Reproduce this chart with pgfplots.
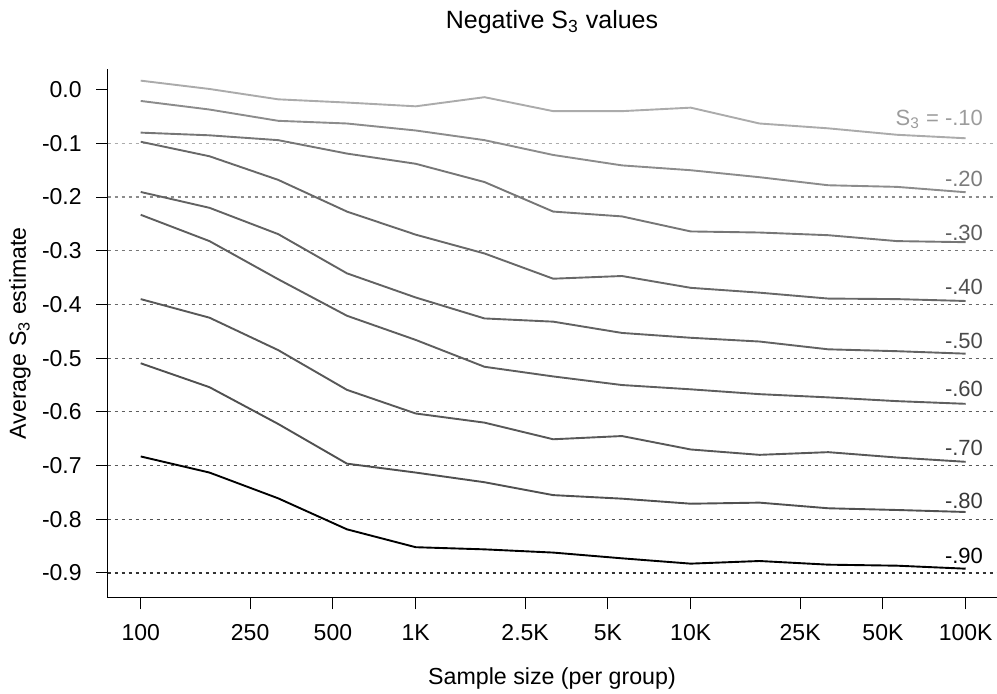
\documentclass[border=0pt]{standalone}
\usepackage{fontspec}
\setmainfont{Liberation Sans}
\usepackage{pgfplots}
\pgfplotsset{compat=1.18}
\usepackage{pgfplotstable}

\definecolor{c1}{HTML}{ABABAB}
\definecolor{c2}{HTML}{8C8C8C}
\definecolor{c3}{HTML}{767676}
\definecolor{c4}{HTML}{686868}
\definecolor{c5}{HTML}{626262}
\definecolor{c6}{HTML}{5E5E5E}
\definecolor{c7}{HTML}{585858}
\definecolor{c8}{HTML}{505050}
\definecolor{c9}{HTML}{000000}
\definecolor{t1}{HTML}{9C9C9C}
\definecolor{t2}{HTML}{7C7C7C}
\definecolor{t3}{HTML}{5E5E5E}
\definecolor{t4}{HTML}{505050}
\definecolor{t5}{HTML}{4A4A4A}
\definecolor{t6}{HTML}{444444}
\definecolor{t7}{HTML}{404040}
\definecolor{t8}{HTML}{383838}

\pgfplotstableread{
n       s1      s2      s3      s4      s5      s6      s7      s8      s9
100     0.0168  -0.021  -0.080  -0.097  -0.1905 -0.233  -0.390  -0.5095 -0.683
177.83  0.0013  -0.037  -0.085  -0.124  -0.220  -0.282  -0.4246 -0.554  -0.713
316.23  -0.018  -0.058  -0.094  -0.168  -0.269  -0.353  -0.485  -0.6225 -0.761
562.34  -0.024  -0.063  -0.119  -0.227  -0.342  -0.421  -0.559  -0.6964 -0.8187
1000    -0.031  -0.076  -0.138  -0.270  -0.387  -0.466  -0.603  -0.713  -0.852
1778.3  -0.014  -0.094  -0.172  -0.305  -0.426  -0.516  -0.620  -0.731  -0.856
3162.3  -0.040  -0.1216 -0.227  -0.352  -0.432  -0.534  -0.651  -0.755  -0.862
5623.4  -0.040  -0.141  -0.236  -0.347  -0.453  -0.550  -0.645  -0.7616 -0.8727
10000   -0.0335 -0.150  -0.264  -0.369  -0.462  -0.558  -0.670  -0.771  -0.8826
17783   -0.063  -0.163  -0.266  -0.378  -0.469  -0.567  -0.680  -0.769  -0.8777
31623   -0.072  -0.178  -0.271  -0.389  -0.4835 -0.573  -0.675  -0.7795 -0.8845
56234   -0.084  -0.181  -0.282  -0.390  -0.487  -0.580  -0.685  -0.7827 -0.8864
100000  -0.0905 -0.191  -0.284  -0.3935 -0.4916 -0.585  -0.693  -0.7864 -0.892
}\datatable

\begin{document}
\begin{tikzpicture}
\begin{axis}[
  name=ax, at={(0,0)}, anchor=south west,
  scale only axis, width=445.5pt, height=264.35pt,
  xmode=log, xmin=75.86, xmax=131826, ymin=-0.946, ymax=0.0385,
  axis x line*=bottom, axis y line*=left,
  axis line style={line width=0.6pt, black},
  xtick={100,250,500,1000,2500,5000,10000,25000,50000,100000},
  xticklabels={100,250,500,1K,2.5K,5K,10K,25K,50K,100K},
  ytick={0,-0.1,-0.2,-0.3,-0.4,-0.5,-0.6,-0.7,-0.8,-0.9},
  yticklabels={0.0,-0.1,-0.2,-0.3,-0.4,-0.5,-0.6,-0.7,-0.8,-0.9},
  tick align=outside, major tick length=5.85pt,
  tick style={line width=0.5pt, black},
  xminorticks=false, yminorticks=false,
  ticklabel style={font=\fontsize{11.5}{13}\selectfont, inner sep=0pt},
  xticklabel style={anchor=north, yshift=-7.3pt},
  yticklabel style={anchor=east, xshift=-7pt},
  clip=false,
  no markers,
]
\addplot[c1, line width=0.6pt, dash pattern=on 1.5pt off 2pt, forget plot] coordinates {(75.86,-0.1) (131826,-0.1)};
\addplot[c2, line width=0.6pt, dash pattern=on 1.5pt off 2pt, forget plot] coordinates {(75.86,-0.2) (131826,-0.2)};
\addplot[c3, line width=0.6pt, dash pattern=on 1.5pt off 2pt, forget plot] coordinates {(75.86,-0.3) (131826,-0.3)};
\addplot[c4, line width=0.6pt, dash pattern=on 1.5pt off 2pt, forget plot] coordinates {(75.86,-0.4) (131826,-0.4)};
\addplot[c5, line width=0.6pt, dash pattern=on 1.5pt off 2pt, forget plot] coordinates {(75.86,-0.5) (131826,-0.5)};
\addplot[c6, line width=0.6pt, dash pattern=on 1.5pt off 2pt, forget plot] coordinates {(75.86,-0.6) (131826,-0.6)};
\addplot[c7, line width=0.6pt, dash pattern=on 1.5pt off 2pt, forget plot] coordinates {(75.86,-0.7) (131826,-0.7)};
\addplot[c8, line width=0.6pt, dash pattern=on 1.5pt off 2pt, forget plot] coordinates {(75.86,-0.8) (131826,-0.8)};
\addplot[c9!80, line width=0.6pt, dash pattern=on 1.5pt off 2pt, forget plot] coordinates {(75.86,-0.9) (131826,-0.9)};

\addplot[c1, line width=0.95pt] table[x=n, y=s1] {\datatable};
\addplot[c2, line width=0.95pt] table[x=n, y=s2] {\datatable};
\addplot[c3, line width=0.95pt] table[x=n, y=s3] {\datatable};
\addplot[c4, line width=0.95pt] table[x=n, y=s4] {\datatable};
\addplot[c5, line width=0.95pt] table[x=n, y=s5] {\datatable};
\addplot[c6, line width=0.95pt] table[x=n, y=s6] {\datatable};
\addplot[c7, line width=0.95pt] table[x=n, y=s7] {\datatable};
\addplot[c8, line width=0.95pt] table[x=n, y=s8] {\datatable};
\addplot[c9, line width=0.95pt] table[x=n, y=s9] {\datatable};

\begin{scope}[every node/.style={anchor=base east, inner sep=0pt, font=\fontsize{11}{13}\selectfont}]
\node[t1] at (axis cs:115900,-0.0658) {S\textsubscript{3} = -.10};
\node[t2] at (axis cs:115900,-0.1803) {-.20};
\node[t3] at (axis cs:115900,-0.2800) {-.30};
\node[t4] at (axis cs:115900,-0.3820) {-.40};
\node[t5] at (axis cs:115900,-0.4816) {-.50};
\node[t6] at (axis cs:115900,-0.5717) {-.60};
\node[t7] at (axis cs:115900,-0.6803) {-.70};
\node[t8] at (axis cs:115900,-0.7796) {-.80};
\node[black] at (axis cs:115900,-0.8820) {-.90};
\end{scope}
\end{axis}
\node[anchor=base, inner sep=0pt, font=\fontsize{12.5}{15}\selectfont] at ([shift={(222.15pt,284.7pt)}]ax.south west) {Negative S\textsubscript{3} values};
\node[anchor=base, inner sep=0pt, font=\fontsize{11.6}{13}\selectfont] at ([shift={(222.15pt,-43.65pt)}]ax.south west) {Sample size (per group)};
\node[anchor=base, rotate=90, inner sep=0pt, font=\fontsize{11.6}{13}\selectfont] at ([shift={(-40.85pt,132.2pt)}]ax.south west) {Average S\textsubscript{3} estimate};
\pgfresetboundingbox
\path[use as bounding box] ([shift={(-53.85pt,-48.15pt)}]ax.south west) rectangle ([shift={(444.65pt,298.85pt)}]ax.south west);
\end{tikzpicture}
\end{document}
